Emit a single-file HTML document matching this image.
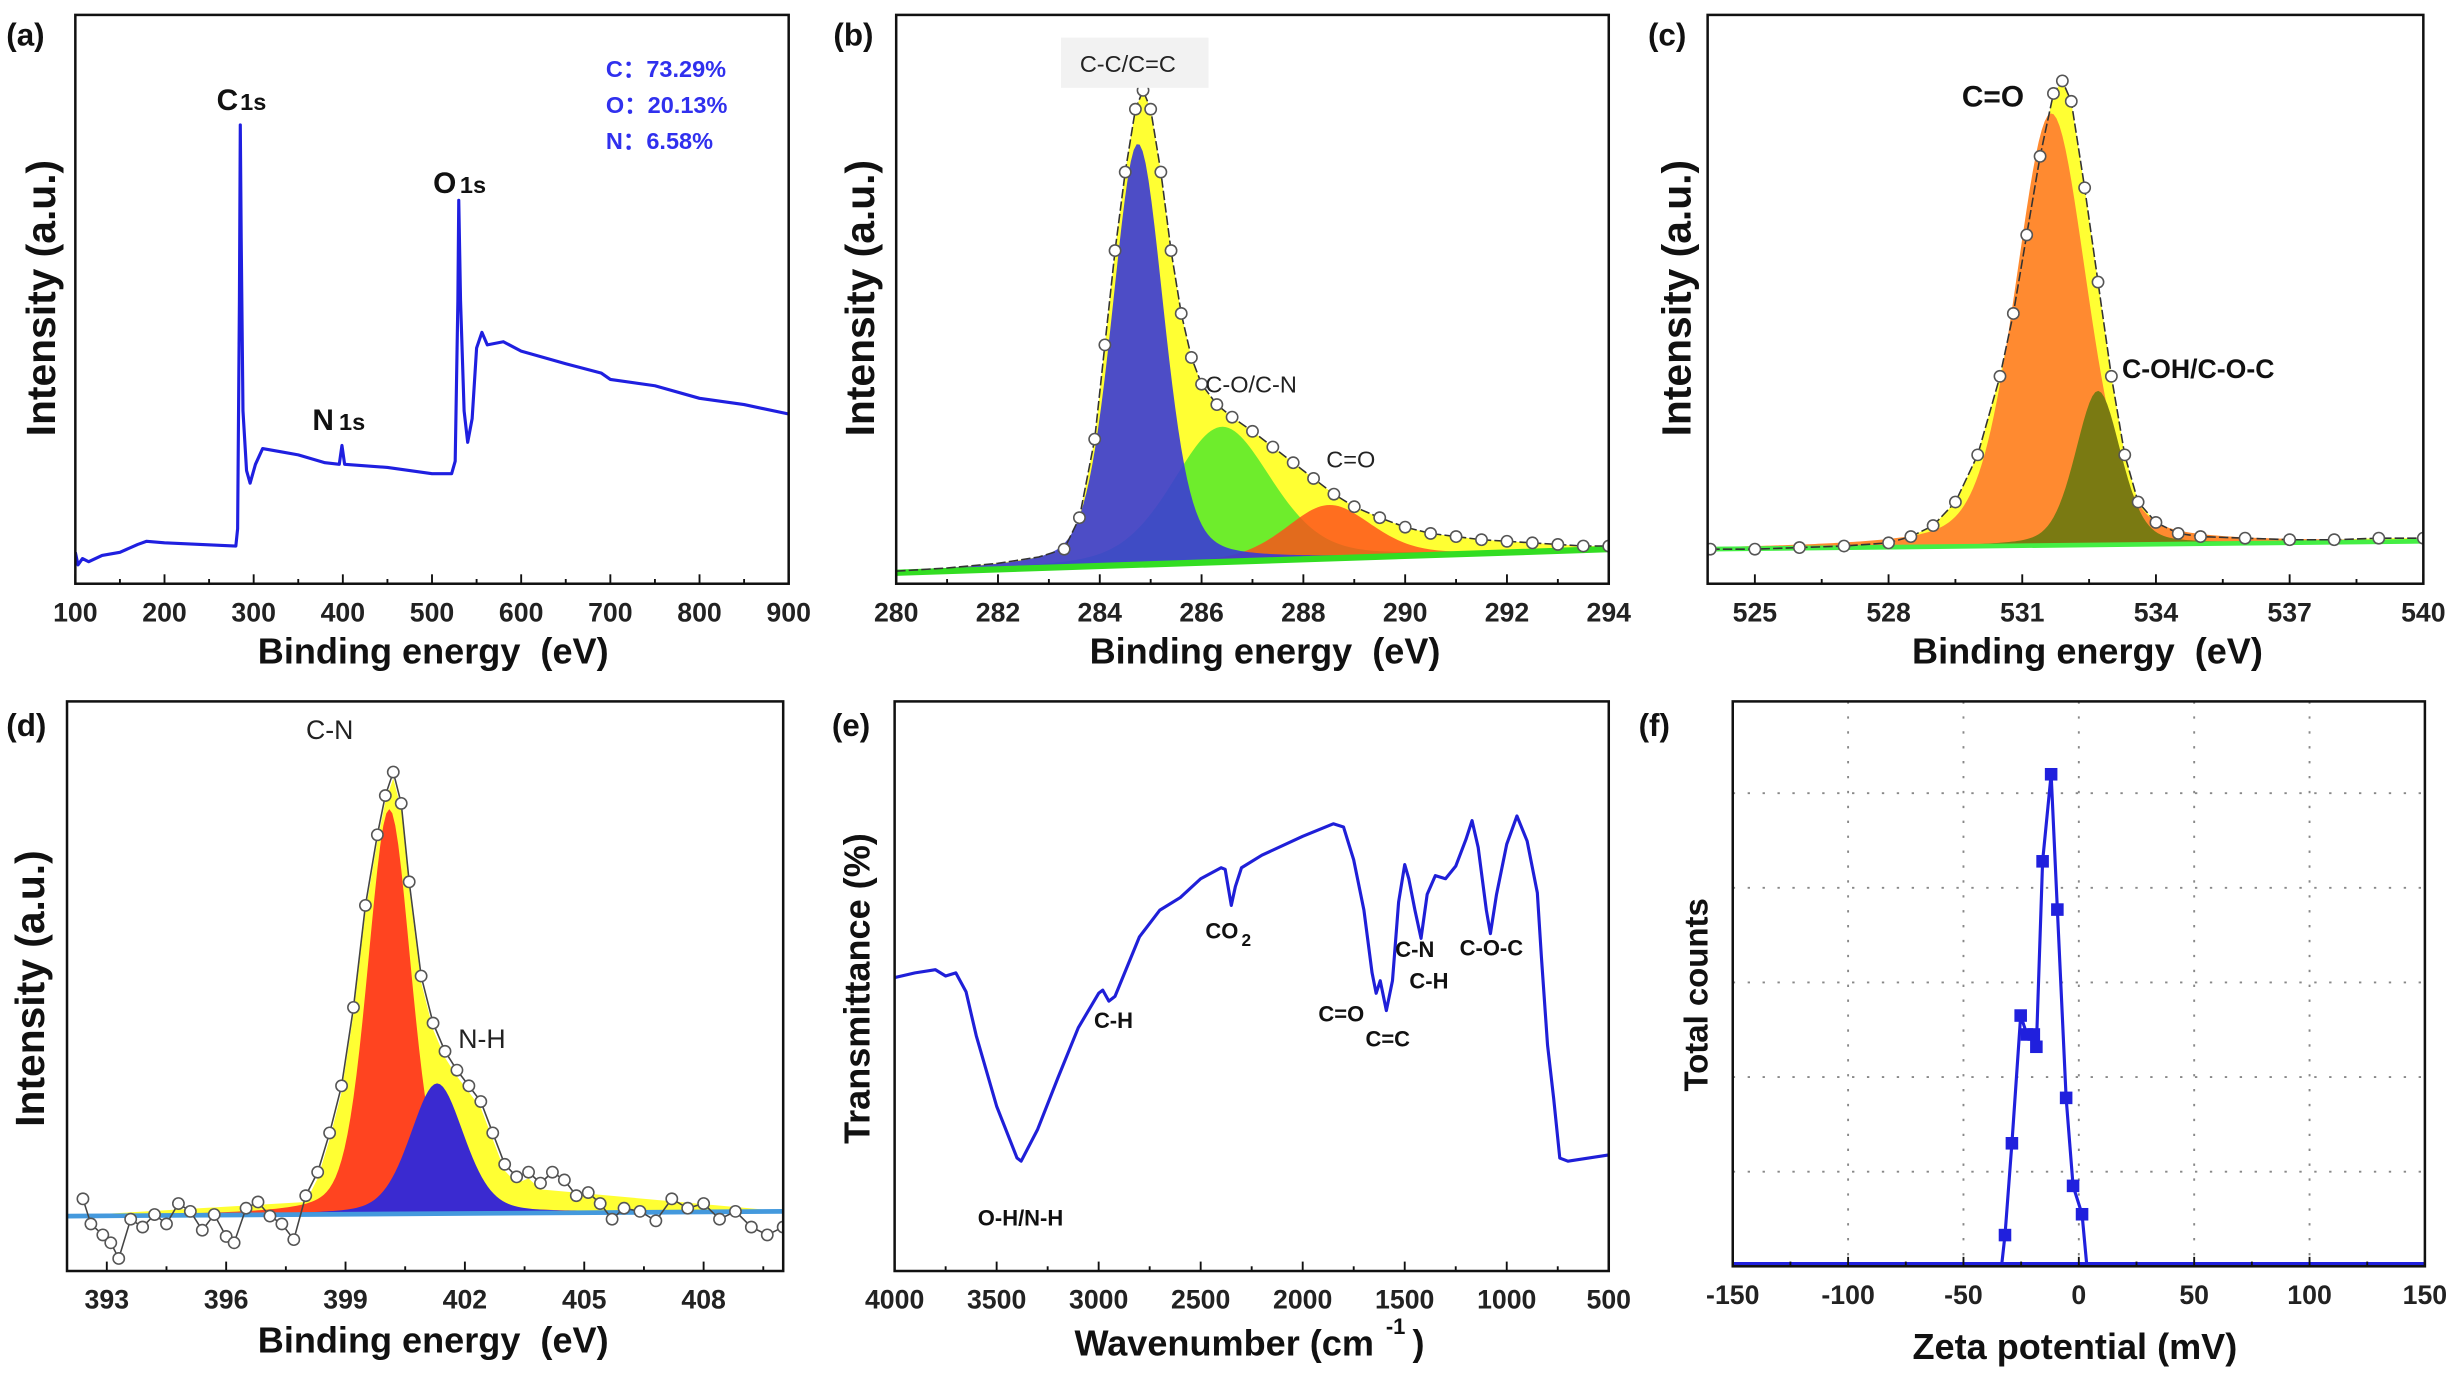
<!DOCTYPE html>
<html><head><meta charset="utf-8"><style>
html,body{margin:0;padding:0;background:#fff;}
svg{display:block;}
text{font-family:"Liberation Sans",Arial,sans-serif;}
</style></head><body>
<svg id="fig" xmlns="http://www.w3.org/2000/svg" width="2461" height="1373" viewBox="0 0 1568 875" preserveAspectRatio="none"></svg>
<script>
// ---------- data (a) survey ----------
const aX=[100,103,108,115,130,150,170,180,200,240,280,282,284,285,286,288,292,296,302,310,330,350,380,396,399,402,450,500,522,526,529,530,532,536,540,545,550,556,562,580,600,650,690,700,750,800,850,900];
const aY=[20,12,16,14,18,20,25,27,26,25,24,35,180,292,220,110,72,64,76,86,84,82,77,76,88,76,74,70,70,78,180,244,180,110,90,105,150,160,152,154,148,140,134,130,126,118,114,108];
const aTicks=[100,200,300,400,500,600,700,800,900];
// ---------- (b) C1s ----------
const bX=[280,281,282,282.8,283.3,283.6,283.9,284.1,284.3,284.5,284.7,284.85,285.0,285.2,285.4,285.6,285.8,286.0,286.3,286.6,287.0,287.4,287.8,288.2,288.6,289.0,289.5,290,290.5,291,291.5,292,292.5,293,293.5,294];
const bY=[8,10,13,17,22,42,92,152,212,262,302,314,302,262,212,172,144,127,114,106,97,87,77,67,57,49,42,36,32,30,28,27,26,25,24,24];
const bCenters=[284.75,286.4,288.5];
const bHeights=[268,86,34];
const bWidths=[1.2,2.3,2.0];
const bBase=[7,22];
const bTicks=[280,282,284,286,288,290,292,294];
// ---------- (c) O1s ----------
const cX=[524,525,526,527,528,528.5,529,529.5,530,530.5,530.8,531.1,531.4,531.7,531.9,532.1,532.4,532.7,533,533.3,533.6,534,534.5,535,536,537,538,539,540];
const cY=[22,22,23,24,26,30,37,52,82,132,172,222,272,312,320,307,252,192,132,82,52,39,32,30,29,28,28,29,29];
const cCenters=[531.65,532.7];
const cHeights=[275,98];
const cWidths=[1.9,1.2];
const cBase=[22,27];
const cTicks=[525,528,531,534,537,540];
// ---------- (d) N1s ----------
const dX=[392.4,392.6,392.9,393.1,393.3,393.6,393.9,394.2,394.5,394.8,395.1,395.4,395.7,396.0,396.2,396.5,396.8,397.1,397.4,397.7,398.0,398.3,398.6,398.9,399.2,399.5,399.8,400.0,400.2,400.4,400.6,400.9,401.2,401.5,401.8,402.1,402.4,402.7,403.0,403.3,403.6,403.9,404.2,404.5,404.8,405.1,405.4,405.7,406.0,406.4,406.8,407.2,407.6,408.0,408.4,408.8,409.2,409.6,410.0];
const dY=[46,30,23,18,8,33,28,36,30,43,38,26,36,22,18,40,44,35,30,20,48,63,88,118,168,233,278,303,318,298,248,188,158,140,128,118,108,88,68,60,63,56,63,58,48,50,43,33,40,38,32,46,40,43,33,38,28,23,28];
const dCenters=[400.1,401.3];
const dHeights=[258,83];
const dWidths=[1.3,1.6];
const dBase=[35,38];
const dTicks=[393,396,399,402,405,408];
// ---------- (e) FTIR ----------
const eX=[4000,3900,3800,3750,3700,3650,3600,3500,3400,3380,3300,3200,3100,3000,2980,2950,2920,2800,2700,2600,2500,2400,2380,2350,2330,2300,2200,2000,1850,1800,1750,1700,1660,1640,1620,1590,1560,1530,1500,1480,1450,1420,1390,1350,1300,1250,1200,1170,1140,1100,1080,1050,1000,950,900,850,830,800,770,740,700,500];
const eY=[187,190,192,188,190,178,150,105,72,70,90,123,155,177,179,172,175,213,230,238,250,257,256,233,245,257,265,277,285,283,262,230,190,177,185,166,185,235,259,250,230,212,240,252,250,258,275,287,270,230,215,240,272,290,274,241,200,144,110,72,70,74];
const eTicks=[4000,3500,3000,2500,2000,1500,1000,500];
// ---------- (f) zeta ----------
const fX=[-32,-29,-25.2,-22.5,-19.5,-18.4,-15.7,-12,-9.3,-5.5,-2.5,1.4];
const fY=[0.33,1.3,2.65,2.45,2.45,2.32,4.28,5.2,3.77,1.78,0.85,0.55];
const fEnds=[-33.5,3.5];
const fTicks=[-150,-100,-50,0,50,100,150];
const fGridY=[1,2,3,4,5];

const NS='http://www.w3.org/2000/svg';
const svg=document.getElementById('fig');
function mk(tag,attrs,parent){const e=document.createElementNS(NS,tag);for(const k in attrs)e.setAttribute(k,attrs[k]);(parent||svg).appendChild(e);return e;}
function sx(p,v){return p.x0+(v-p.xd[0])/(p.xd[1]-p.xd[0])*(p.x1-p.x0);}
function sy(p,v){return p.y1-(v-p.yd[0])/(p.yd[1]-p.yd[0])*(p.y1-p.y0);}
function pv(x,c,h,w){const d=(x-c)*(x-c)*4/(w*w);return h*(0.3/(1+d)+0.7*Math.exp(-Math.log(2)*d));}
function baseAt(p,b,x){return b[0]+(b[1]-b[0])*(x-p.xd[0])/(p.xd[1]-p.xd[0]);}

const P={
 a:{x0:48,y0:9.5,x1:502.5,y1:372,xd:[100,900],yd:[0,362]},
 b:{x0:571,y0:9.5,x1:1025,y1:372,xd:[280,294],yd:[0,362]},
 c:{x0:1088,y0:9.5,x1:1544,y1:372,xd:[523.94,540],yd:[0,362]},
 d:{x0:42.7,y0:447,x1:499,y1:810,xd:[392,410],yd:[0,363]},
 e:{x0:570,y0:447,x1:1025,y1:810,xd:[4000,500],yd:[0,363]},
 f:{x0:1104,y0:447,x1:1545,y1:807,xd:[-150,150],yd:[0,5.97]}
};
function panelGroup(key){
 const p=P[key];
 const g=mk('g',{});
 
 
 const cp=mk('clipPath',{id:'clip'+key},g);
 mk('rect',{x:p.x0,y:p.y0,width:p.x1-p.x0,height:p.y1-p.y0},cp);
 const plot=mk('g',{'clip-path':'url(#clip'+key+')'},g);
 
 
 p.g=g;p.plot=plot;return p;
}
function frame(p,key){
 const r=mk('rect',{x:p.x0,y:p.y0,width:p.x1-p.x0,height:p.y1-p.y0,fill:'none',stroke:'#111','stroke-width':1.6},p.g);
 
 
}
function ticks(p,key,majors,minorStep,fs){
 const lo=Math.min(p.xd[0],p.xd[1]),hi=Math.max(p.xd[0],p.xd[1]);
 for(let v=Math.ceil(lo/minorStep)*minorStep;v<=hi+1e-9;v+=minorStep){
  const x=sx(p,v);const isMaj=majors.some(m=>Math.abs(m-v)<1e-6);
  const t=mk('line',{x1:x,x2:x,y1:p.y1,y2:p.y1-(isMaj?6:3),stroke:'#111','stroke-width':1.2},p.g);
  
  
 }
 majors.forEach(m=>{
  const t=mk('text',{x:sx(p,m),y:p.y1+24,'text-anchor':'middle','font-size':fs||17,'font-weight':'bold',fill:'#222'},p.g);
  t.textContent=m;
  
  
 });
}
function txt(p,s,x,y,opts){
 const t=mk('text',Object.assign({x:x,y:y,'font-size':16,fill:'#111'},opts||{}),p?p.g:svg);
 t.textContent=s;return t;
}
function curvePts(p,xs,ys){return xs.map((x,i)=>sx(p,x).toFixed(2)+','+sy(p,ys[i]).toFixed(2)).join(' ');}
function compPoly(p,c,h,w,b){
 const pts=[];const n=240;
 for(let i=0;i<=n;i++){const x=p.xd[0]+(p.xd[1]-p.xd[0])*i/n;pts.push(sx(p,x).toFixed(2)+','+sy(p,baseAt(p,b,x)+pv(x,c,h,w)).toFixed(2));}
 for(let i=n;i>=0;i--){const x=p.xd[0]+(p.xd[1]-p.xd[0])*i/n;pts.push(sx(p,x).toFixed(2)+','+sy(p,baseAt(p,b,x)).toFixed(2));}
 return pts.join(' ');
}
function envPoly(p,xs,ys,b){
 let s=curvePts(p,xs,ys);
 s+=' '+sx(p,xs[xs.length-1])+','+sy(p,baseAt(p,b,xs[xs.length-1]))+' '+sx(p,xs[0])+','+sy(p,baseAt(p,b,xs[0]));
 return s;
}
function circles(p,xs,ys,key){
 xs.forEach((x,i)=>{
  const c=mk('circle',{cx:sx(p,x),cy:sy(p,ys[i]),r:3.6,fill:'#fff',stroke:'#555','stroke-width':1},p.plot);
  
  
 });
}
function baseline(p,b,color,key,w){
 const l=mk('line',{x1:p.x0,x2:p.x1,y1:sy(p,b[0]),y2:sy(p,b[1]),stroke:color,'stroke-width':w||3},p.plot);
 
 
}
function yTitle(s,x,y,fs){
 const t=mk('text',{x:x,y:y,'text-anchor':'middle','font-size':fs,'font-weight':'bold',fill:'#111',transform:'rotate(-90 '+x+' '+y+')'});
 t.textContent=s;return t;
}
function xTitle(s,x,y){
 const t=mk('text',{x:x,y:y,'text-anchor':'middle','font-size':23,'font-weight':'bold',fill:'#111'});
 t.textContent=s;return t;
}
function plabel(s,x,y){
 const t=mk('text',{x:x,y:y,'font-size':20,'font-weight':'bold',fill:'#111'});
 t.textContent=s;return t;
}

// ===== panel a =====
let p=panelGroup('a');
let ln=mk('polyline',{points:curvePts(p,aX,aY),fill:'none',stroke:'#1f1fe0','stroke-width':2,'stroke-linejoin':'round'},p.plot);


frame(p,'a');ticks(p,'a',aTicks,50);
let t;
t=txt(p,'C',138,70,{'font-size':19,'font-weight':'bold'});
t=txt(p,'1s',153,70,{'font-size':15,'font-weight':'bold'});
t=txt(p,'N',199,274,{'font-size':19,'font-weight':'bold'});
t=txt(p,'1s',216,274,{'font-size':15,'font-weight':'bold'});
t=txt(p,'O',276,123,{'font-size':19,'font-weight':'bold'});
t=txt(p,'1s',293,123,{'font-size':15,'font-weight':'bold'});
t=txt(p,'C：73.29%',386,49,{'font-size':15,'font-weight':'bold',fill:'#3030ee'});
t=txt(p,'O：20.13%',386,72,{'font-size':15,'font-weight':'bold',fill:'#3030ee'});
t=txt(p,'N：6.58%',386,95,{'font-size':15,'font-weight':'bold',fill:'#3030ee'});

// ===== panel b =====
p=panelGroup('b');
let bg=mk('rect',{x:676,y:24,width:94,height:32,fill:'#f2f2f2'},p.g);


let poly=mk('polygon',{points:envPoly(p,bX,bY,bBase),fill:'#ffff33'},p.plot);


const bCols=['#3a3ad6','#4ae82a','#ff4a1a'];
const bNames=['peak-cc','peak-co-cn','peak-c-o-double'];
[1,2,0].forEach(i=>{
 const q=mk('polygon',{points:compPoly(p,bCenters[i],bHeights[i],bWidths[i],bBase),fill:bCols[i],'fill-opacity':i===0?0.9:0.8},p.plot);
 
 
});
baseline(p,bBase,'#33dd22','b',4);
ln=mk('polyline',{points:curvePts(p,bX,bY),fill:'none',stroke:'#333','stroke-width':1,'stroke-dasharray':'6 2'},p.plot);


circles(p,bX.slice(4),bY.slice(4),'b');
frame(p,'b');ticks(p,'b',bTicks,1);
t=txt(p,'C-C/C=C',688,46,{'font-size':15,fill:'#222'});
t=txt(p,'C-O/C-N',768,250,{'font-size':15,fill:'#222'});
t=txt(p,'C=O',845,298,{'font-size':15,fill:'#222'});

// ===== panel c =====
p=panelGroup('c');
poly=mk('polygon',{points:envPoly(p,cX,cY,cBase),fill:'#ffff33'},p.plot);


const cCols=['#ff8a30','#7a7a12'];
const cNames=['peak-c-o-double-c','peak-coh-coc'];
[0,1].forEach(i=>{
 const q=mk('polygon',{points:compPoly(p,cCenters[i],cHeights[i],cWidths[i],cBase),fill:cCols[i]},p.plot);
 
 
});
baseline(p,cBase,'#44ee44','c');
ln=mk('polyline',{points:curvePts(p,cX,cY),fill:'none',stroke:'#333','stroke-width':1,'stroke-dasharray':'6 2'},p.plot);


circles(p,cX,cY,'c');
frame(p,'c');ticks(p,'c',cTicks,1.5);
t=txt(p,'C=O',1250,68,{'font-size':19,'font-weight':'bold'});
t=txt(p,'C-OH/C-O-C',1352,241,{'font-size':17,'font-weight':'bold'});

// ===== panel d =====
p=panelGroup('d');
const dEX=dX.slice(20,42),dEY=dY.slice(20,42);
poly=mk('polygon',{points:envPoly(p,[392].concat(dEX,[410]),[35].concat(dEY.map((v,i)=>Math.max(35,v-4)),[38]),dBase),fill:'#ffff33'},p.plot);


const dCols=['#ff4420','#3a2ad0'];
const dNames=['peak-cn','peak-nh'];
[0,1].forEach(i=>{
 const q=mk('polygon',{points:compPoly(p,dCenters[i],dHeights[i],dWidths[i],dBase),fill:dCols[i]},p.plot);
 
 
});
baseline(p,dBase,'#4499dd','d');
ln=mk('polyline',{points:curvePts(p,dX,dY),fill:'none',stroke:'#444','stroke-width':1},p.plot);


circles(p,dX,dY,'d');
frame(p,'d');ticks(p,'d',dTicks,1.5);
t=txt(p,'C-N',195,471,{'font-size':17,fill:'#222'});
t=txt(p,'N-H',292,668,{'font-size':17,fill:'#222'});

// ===== panel e =====
p=panelGroup('e');
ln=mk('polyline',{points:curvePts(p,eX,eY),fill:'none',stroke:'#1f1fd8','stroke-width':2,'stroke-linejoin':'round'},p.plot);


frame(p,'e');ticks(p,'e',eTicks,250);
const eLab=[['O-H/N-H',623,781],['C-H',697,655],['C=O',840,651],['C=C',870,667],['C-N',889,610],['C-H',898,630],['C-O-C',930,609]];
eLab.forEach(L=>{t=txt(p,L[0],L[1],L[2],{'font-size':14,'font-weight':'bold'});});
t=txt(p,'CO',768,598,{'font-size':14,'font-weight':'bold'});
t=txt(p,'2',791,603,{'font-size':11,'font-weight':'bold'});

// ===== panel f =====
p=panelGroup('f');
fTicks.slice(1,-1).forEach(v=>{
 const g=mk('line',{x1:sx(p,v),x2:sx(p,v),y1:p.y0,y2:p.y1,stroke:'#888','stroke-width':1.2,'stroke-dasharray':'1.5 8'},p.plot);
 
 
});
fGridY.forEach(v=>{
 const g=mk('line',{x1:p.x0,x2:p.x1,y1:sy(p,v),y2:sy(p,v),stroke:'#888','stroke-width':1.2,'stroke-dasharray':'1.5 8'},p.plot);
 
 
});
let bl=mk('line',{x1:p.x0,x2:p.x1,y1:sy(p,0)-1,y2:sy(p,0)-1,stroke:'#2020dd','stroke-width':3.5},p.plot);


ln=mk('polyline',{points:curvePts(p,[fEnds[0]].concat(fX,[fEnds[1]]),[0].concat(fY,[0])),fill:'none',stroke:'#2020dd','stroke-width':2},p.plot);


fX.forEach((x,i)=>{
 const m=mk('rect',{x:sx(p,x)-4,y:sy(p,fY[i])-4,width:8,height:8,fill:'#2020dd'},p.plot);
 
 
});
frame(p,'f');ticks(p,'f',fTicks,25);

// ===== titles =====
t=yTitle('Intensity (a.u.)',35,190,26);
t=yTitle('Intensity (a.u.)',557,190,26);
t=yTitle('Intensity (a.u.)',1077,190,26);
t=yTitle('Intensity (a.u.)',28,630,26);
t=yTitle('Transmittance (%)',554,630,23);
t=yTitle('Total counts',1088,634,21);
t=xTitle('Binding energy \u00a0(eV)',276,423);
t=xTitle('Binding energy \u00a0(eV)',806,423);
t=xTitle('Binding energy \u00a0(eV)',1330,423);
t=xTitle('Binding energy \u00a0(eV)',276,862);
t=xTitle('Wavenumber (cm',780,864);
t=mk('text',{x:883,y:850,'font-size':14,'font-weight':'bold',fill:'#111'});t.textContent='-1';
t=mk('text',{x:900,y:864,'font-size':23,'font-weight':'bold',fill:'#111'});t.textContent=')';
t=xTitle('Zeta potential (mV)',1322,866);
t=plabel('(a)',4,29);
t=plabel('(b)',531,29);
t=plabel('(c)',1050,29);
t=plabel('(d)',4,469);
t=plabel('(e)',530,469);
t=plabel('(f)',1044,469);
</script>
</body></html>
